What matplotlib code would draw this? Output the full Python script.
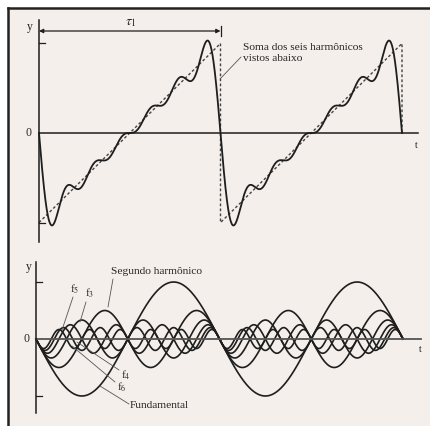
import numpy as np
import matplotlib
matplotlib.use("Agg")
import matplotlib.pyplot as plt

# harmonic numbers and amplitudes (fundamental = 1)
harmonics = [1, 2, 3, 4, 5, 6]
amplitudes = [1.0, 0.5, 0.333, 0.25, 0.2, 0.167]
n_periods = 2

# ideal sawtooth (dashed), corner points in periods / amplitude units
saw_t = [0.0, 1.0, 1.0, 2.0, 2.0]
saw_y = [-1.571, 1.571, -1.571, 1.571, 0.0]
saw_tick = 1.571      # tick marks on the upper y axis
fund_tick = 1.0       # tick marks on the lower y axis

top_text = "Soma dos seis harmônicos\nvistos abaixo"
bottom_labels = ["Segundo harmônico", "f$_5$", "f$_3$", "f$_4$", "f$_6$", "Fundamental"]

plt.rcParams['font.family'] = ['Liberation Serif', 'DejaVu Serif']
plt.rcParams['mathtext.fontset'] = 'stix'

W, H = 430, 426
bg = '#f4efea'
ink = '#1e1e1e'
txt = '#262626'

fig = plt.figure(figsize=(W / 100, H / 100), dpi=100, facecolor='white')

# scanned page background with its top/left edge
back = fig.add_axes([8 / W, 0, 1 - 8 / W, 1 - 8 / H])
back.set_facecolor(bg)
back.set_xticks([])
back.set_yticks([])
for s in ['right', 'bottom']:
    back.spines[s].set_visible(False)
for s in ['top', 'left']:
    back.spines[s].set_linewidth(1.8)
    back.spines[s].set_color('#222222')


def make_axes(x0, per, y0, unit, L, R, T, B):
    # axes whose data origin / scale sit at the given pixel positions
    ax = fig.add_axes([L / W, 1 - B / H, (R - L) / W, (B - T) / H])
    ax.set_xlim((L - x0) / per, (R - x0) / per)
    ax.set_ylim((y0 - B) / unit, (y0 - T) / unit)
    ax.set_axis_off()
    ax.patch.set_alpha(0)
    return ax


def px(ax_par, x, y):
    x0, per, y0, unit = ax_par
    return (x - x0) / per, (y0 - y) / unit


t = np.linspace(0, n_periods, 3000)
waves = [-a * np.sin(2 * np.pi * n * t) for n, a in zip(harmonics, amplitudes)]
total = np.sum(waves, axis=0)

# ---------------- top: sum of six harmonics ----------------
tp = (39, 181.5, 133, 57)
ax1 = make_axes(*tp, 10, 430, 10, 252)
ax1.plot(saw_t, saw_y, color='#444444', lw=1.0, ls=(0, (2, 1.6)))
ax1.plot(t, total, color=ink, lw=1.3)
ax1.plot([0, 2.09], [0, 0], color=ink, lw=1.1)
ax1.plot([0, 0], [px(tp, 0, 20)[1], px(tp, 0, 242)[1]], color=ink, lw=1.1)
for v in [saw_tick, -saw_tick]:
    ax1.plot([0, 0.035], [v, v], color=ink, lw=0.9)
ax1.text(*px(tp, 33, 27), 'y', fontsize=8.5, color=txt, ha='right', va='center')
ax1.text(*px(tp, 31, 133), '0', fontsize=8.5, color=txt, ha='right', va='center')
ax1.text(*px(tp, 416, 146), 't', fontsize=7, color=txt, ha='center', va='center')
# period arrow
ya = px(tp, 0, 31)[1]
ax1.annotate('', xy=(0, ya), xytext=(1, ya),
             arrowprops=dict(arrowstyle='<|-|>', color=ink, lw=0.9,
                             mutation_scale=6, shrinkA=0, shrinkB=0))
ax1.plot([1, 1], [px(tp, 0, 26)[1], px(tp, 0, 36)[1]], color=ink, lw=0.9)
ax1.text(*px(tp, 131, 23), r'$\tau_1$', fontsize=10, color=txt, ha='center', va='center')
ax1.text(*px(tp, 243, 43), top_text, fontsize=8.2, color=txt, ha='left', va='top',
         linespacing=1.3)
ax1.annotate('', xy=px(tp, 220, 79), xytext=px(tp, 241, 57),
             arrowprops=dict(arrowstyle='-', color='#555555', lw=0.6,
                             shrinkA=0, shrinkB=0))

# ---------------- bottom: the harmonics ----------------
bp = (36, 183.5, 339, 57)
ax2 = make_axes(*bp, 10, 430, 252, 426)
for w in waves:
    ax2.plot(t, w, color=ink, lw=1.2)
ax2.plot([0, 2.1], [0, 0], color='#555555', lw=1.3)
ax2.plot([0, 0], [px(bp, 0, 262)[1], px(bp, 0, 413)[1]], color=ink, lw=1.1)
for v in [fund_tick, -fund_tick]:
    ax2.plot([0, 0.035], [v, v], color=ink, lw=0.9)
ax2.text(*px(bp, 32, 267), 'y', fontsize=8.5, color=txt, ha='right', va='center')
ax2.text(*px(bp, 30, 339), '0', fontsize=8.5, color=txt, ha='right', va='center')
ax2.text(*px(bp, 420, 349), 't', fontsize=7, color=txt, ha='center', va='center')

label_pos = [(111, 272, 'left'), (75, 289, 'center'), (90, 293, 'center'),
             (126, 375, 'center'), (122, 387, 'center'), (130, 406, 'left')]
leaders = [((113, 279), (108, 307)), ((73, 297), (62, 330)), ((86, 302), (80, 322)),
           ((119, 370), (77, 342)), ((115, 382), (72, 346)), ((129, 404), (100, 386))]
for lab, (x, y, ha), (a, b) in zip(bottom_labels, label_pos, leaders):
    ax2.text(*px(bp, x, y), lab, fontsize=8.2, color=txt, ha=ha, va='center')
    ax2.annotate('', xy=px(bp, *b), xytext=px(bp, *a),
                 arrowprops=dict(arrowstyle='-', color='#555555', lw=0.6,
                                 shrinkA=0, shrinkB=0))

fig.savefig('out.png', dpi=100, facecolor='white')
